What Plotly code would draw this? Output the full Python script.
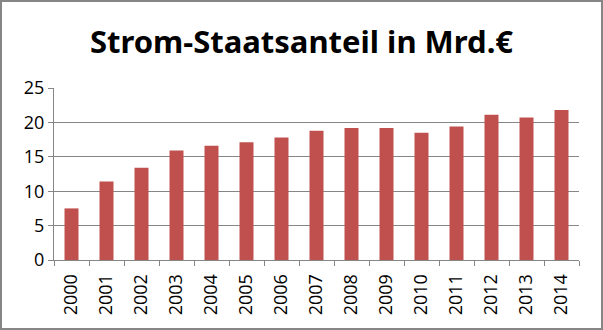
import plotly.graph_objects as go

years = ["2000", "2001", "2002", "2003", "2004", "2005", "2006", "2007",
         "2008", "2009", "2010", "2011", "2012", "2013", "2014"]
values = [7.5, 11.4, 13.4, 15.9, 16.6, 17.1, 17.8, 18.8,
          19.2, 19.2, 18.5, 19.4, 21.1, 20.7, 21.8]
y_ticks = [0, 5, 10, 15, 20, 25]

W, H = 603, 330
ml, mr, mt, mb = 54, 24, 88, 70
pw, ph = W - ml - mr, H - mt - mb

fig = go.Figure(go.Bar(x=years, y=values, marker=dict(color="#C0504D", line=dict(width=0)),
                       width=0.4))

fig.update_layout(
    width=W, height=H,
    margin=dict(l=ml, r=mr, t=mt, b=mb),
    paper_bgcolor="white", plot_bgcolor="white",
    showlegend=False,
    font=dict(family="Open Sans, Liberation Sans, sans-serif", color="black"),
    title=dict(text="<b>Strom-Staatsanteil in Mrd.€</b>", x=0.5, xanchor="center",
               y=1 - 42 / H, yanchor="middle",
               font=dict(size=31, family="Noto Sans, Open Sans, sans-serif", color="black")),
)

fig.update_yaxes(range=[0, 25], tickvals=y_ticks, showgrid=True, gridcolor="#868686",
                 gridwidth=1, showline=True, linecolor="#868686", linewidth=1,
                 ticks="outside", ticklen=5, tickcolor="#868686",
                 tickfont=dict(size=18, family="Open Sans, sans-serif"), zeroline=False)
fig.update_xaxes(type="category", showline=True, linecolor="#868686", linewidth=1,
                 ticks="outside", ticklen=5, tickcolor="#868686", tickson="boundaries",
                 tickangle=-90, ticklabelstandoff=6,
                 tickfont=dict(size=18, family="Open Sans, sans-serif"))

# outer frame
fig.add_shape(type="rect", xref="paper", yref="paper",
              x0=(-ml + 1) / pw, x1=1 + (mr - 1) / pw,
              y0=(-mb + 1) / ph, y1=1 + (mt - 1) / ph,
              line=dict(color="#868686", width=2), layer="above")

fig.write_html("out.html")
